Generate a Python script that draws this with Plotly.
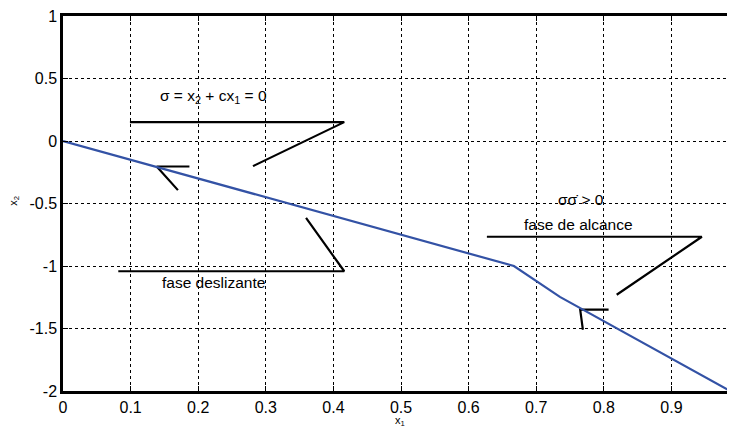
import plotly.graph_objects as go

# trajectory (blue)
traj_x = [0, 0.667, 0.735, 0.839, 1.0]
traj_y = [0, -1.0, -1.247, -1.559, -2.04]

# annotation pointer lines (black)
sigma_line_x = [0.099, 0.416, 0.281]
sigma_line_y = [0.151, 0.151, -0.201]
arrow1_x = [0.187, 0.1386, 0.170]
arrow1_y = [-0.204, -0.204, -0.393]
desl_line_x = [0.0818, 0.416, 0.3595]
desl_line_y = [-1.042, -1.042, -0.615]
alc_line_x = [0.627, 0.945, 0.819]
alc_line_y = [-0.766, -0.766, -1.230]
arrow2_x = [0.807, 0.765, 0.769]
arrow2_y = [-1.349, -1.349, -1.51]

# text labels
label_texts = ["σ = x<sub>2</sub> + cx<sub>1</sub> = 0", "fase deslizante", "σσ\u0307 > 0", "fase de alcance"]
label_x = [0.223, 0.223, 0.766, 0.762]
label_y = [0.36, -1.132, -0.464, -0.671]

x_ticks = [0, 0.1, 0.2, 0.3, 0.4, 0.5, 0.6, 0.7, 0.8, 0.9]
x_ticklabels = ["0", "0.1", "0.2", "0.3", "0.4", "0.5", "0.6", "0.7", "0.8", "0.9"]
y_ticks = [-2, -1.5, -1, -0.5, 0, 0.5, 1]
y_ticklabels = ["-2", "-1.5", "-1", "-0.5", "0", "0.5", "1"]

FONT = "Liberation Sans, Arial, sans-serif"

fig = go.Figure()
for xs, ys in [(sigma_line_x, sigma_line_y), (arrow1_x, arrow1_y), (desl_line_x, desl_line_y),
               (alc_line_x, alc_line_y), (arrow2_x, arrow2_y)]:
    fig.add_trace(go.Scatter(x=xs, y=ys, mode="lines", line=dict(color="black", width=2.2),
                             showlegend=False, hoverinfo="skip"))
fig.add_trace(go.Scatter(x=traj_x, y=traj_y, mode="lines", line=dict(color="#3352a5", width=2.2),
                         showlegend=False))

for t, x, y in zip(label_texts, label_x, label_y):
    fig.add_annotation(x=x, y=y, text=t, showarrow=False, font=dict(family=FONT, size=15.5, color="black"))

fig.add_annotation(xref="paper", yref="paper", x=0.5015, y=-0.08, xanchor="center", yanchor="middle",
                   text="x<sub>1</sub>", showarrow=False,
                   font=dict(family=FONT, size=11, color="black"))
fig.add_annotation(xref="paper", yref="paper", x=-0.073, y=0.507, xanchor="center", yanchor="middle",
                   text="x<sub>2</sub>", showarrow=False,
                   textangle=-90, font=dict(family=FONT, size=11, color="black"))

fig.update_layout(
    template="none",
    width=727, height=425,
    margin=dict(l=55, r=0, t=8, b=42, pad=0),
    paper_bgcolor="white", plot_bgcolor="white",
    font=dict(family=FONT, size=16, color="black"),
    xaxis=dict(range=[0, 0.994], tickvals=x_ticks, ticktext=x_ticklabels, automargin=False,
               tickfont=dict(family=FONT, size=16, color="black"), ticklabeloverflow="allow",
               showgrid=True, gridcolor="black", griddash="dot", gridwidth=1,
               zeroline=False, showline=True, linecolor="black", linewidth=2.5, mirror="ticks",
               ticks="inside", ticklen=5, tickwidth=1, tickcolor="black"),
    yaxis=dict(range=[-2, 1], tickvals=y_ticks, ticktext=y_ticklabels, automargin=False,
               tickfont=dict(family=FONT, size=16, color="black"), ticklabeloverflow="allow",
               showgrid=True, gridcolor="black", griddash="dot", gridwidth=1,
               zeroline=False, showline=True, linecolor="black", linewidth=2.5,
               ticks="inside", ticklen=5, tickwidth=1, tickcolor="black"),
)

fig.write_html("out.html")
